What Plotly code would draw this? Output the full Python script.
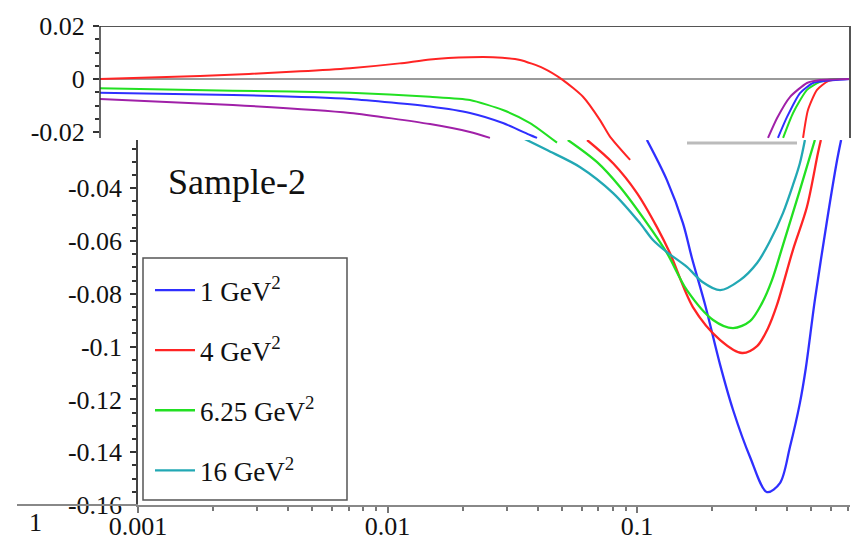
import plotly.graph_objects as go

W, H = 853, 546
FONT = "Liberation Serif"

# ---------------- main (lower) panel data ----------------
legend_names = ["1 GeV<sup>2</sup>", "4 GeV<sup>2</sup>", "6.25 GeV<sup>2</sup>", "16 GeV<sup>2</sup>"]

x_1 = [0.1096, 0.1318, 0.1528, 0.1660, 0.1876, 0.2155, 0.2427, 0.2838, 0.3319, 0.3741, 0.4102, 0.4496,
       0.4750, 0.5164, 0.5781, 0.6339, 0.6577]
y_1 = [-0.0217, -0.0369, -0.0532, -0.0664, -0.0842, -0.1070, -0.1240, -0.1418, -0.1551, -0.1517, -0.1380, -0.1214,
       -0.1081, -0.0823, -0.0520, -0.0293, -0.0217]

x_4 = [0.0631, 0.0802, 0.1000, 0.1202, 0.1355, 0.1675, 0.2155, 0.2637, 0.3029, 0.3350, 0.3639, 0.4216, 0.4797, 0.5309, 0.5457]
y_4 = [-0.0217, -0.0305, -0.0418, -0.0547, -0.0645, -0.0850, -0.0975, -0.1024, -0.0998, -0.0930, -0.0842, -0.0634, -0.0471, -0.0267, -0.0217]

x_625 = [0.0528, 0.0692, 0.0855, 0.1096, 0.1318, 0.1585, 0.2018, 0.2427, 0.2838, 0.3170, 0.3475, 0.3846, 0.4496, 0.5164]
y_625 = [-0.0217, -0.0301, -0.0395, -0.0532, -0.0645, -0.0786, -0.0899, -0.0930, -0.0903, -0.0835, -0.0748, -0.0615, -0.0407, -0.0217]

x_16 = [0.0349, 0.0436, 0.0592, 0.0802, 0.1028, 0.1159, 0.1318, 0.1585, 0.1830, 0.2155, 0.2588, 0.3029, 0.3412, 0.3846,
        0.4216, 0.4496, 0.4710]
y_16 = [-0.0210, -0.0255, -0.0320, -0.0418, -0.0532, -0.0596, -0.0642, -0.0698, -0.0755, -0.0786, -0.0748, -0.0683, -0.0600, -0.0494,
        -0.0388, -0.0305, -0.0217]

main_x = [x_1, x_4, x_625, x_16]
main_y = [y_1, y_4, y_625, y_16]
main_colors = ["#2f2fff", "#ff2424", "#22e022", "#22a8b4"]

# ---------------- upper (inset) panel data ----------------
top_red_x = [0.001, 0.00251, 0.00631, 0.01, 0.0158, 0.0209, 0.0302, 0.0373, 0.0479, 0.0592, 0.0711, 0.0855, 0.1, 0.1096, 0.132,
             None, 0.649, 0.679, 0.738, 0.817, 0.912, 1.0]
top_red_y = [0, 0.0011, 0.0029, 0.0041, 0.0059, 0.0074, 0.0082, 0.0082, 0.0072, 0.0041, -0.0004, -0.0067, -0.0155, -0.0217, -0.0305,
             None, -0.0222, -0.0117, -0.0041, -0.0008, 0, 0]

top_green_x = [0.001, 0.0034, 0.01, 0.0209, 0.0302, 0.0409, 0.0525, 0.0673, None, 0.540, 0.592, 0.673, 0.759, 0.871, 1.0]
top_green_y = [-0.0035, -0.0044, -0.0052, -0.0067, -0.0079, -0.0117, -0.0166, -0.0240, None, -0.0222, -0.0128, -0.0041, -0.0011, 0, 0]

top_blue_x = [0.001, 0.0034, 0.01, 0.0209, 0.0302, 0.0409, 0.0525, 0.056, None, 0.515, 0.560, 0.631, 0.711, 0.780, 1.0]
top_blue_y = [-0.0052, -0.0060, -0.0075, -0.0104, -0.0128, -0.0166, -0.0211, -0.0222, None, -0.0222, -0.0143, -0.0053, -0.0015, -0.0008, 0]

top_purple_x = [0.001, 0.0034, 0.01, 0.0209, 0.0302, 0.0363, None, 0.470, 0.511, 0.575, 0.673, 0.759, 1.0]
top_purple_y = [-0.0075, -0.0098, -0.0128, -0.0170, -0.0200, -0.0222, None, -0.0222, -0.0147, -0.0068, -0.0015, -0.0004, 0]

top_x = [top_red_x, top_green_x, top_blue_x, top_purple_x]
top_y = [top_red_y, top_green_y, top_blue_y, top_purple_y]
top_colors = ["#ff2424", "#22e022", "#2f2fff", "#a020a8"]

# ticks
main_ytick_vals = [-0.16, -0.14, -0.12, -0.1, -0.08, -0.06, -0.04]
main_ytick_text = ["-0.16", "-0.14", "-0.12", "-0.1", "-0.08", "-0.06", "-0.04"]
main_xtick_vals = [0.001, 0.01, 0.1]
main_xtick_text = ["0.001", "0.01", "0.1"]
top_ytick_vals = [0.02, 0, -0.02]
top_ytick_text = ["0.02", "0", "-0.02"]


def px(x):
    return x / W


def py(y):
    return 1 - y / H


fig = go.Figure()

for xs, ys, c in zip(top_x, top_y, top_colors):
    fig.add_trace(go.Scatter(x=xs, y=ys, mode="lines", xaxis="x2", yaxis="y2",
                             line=dict(color=c, width=2, shape="spline", smoothing=0.6),
                             showlegend=False, connectgaps=False, hoverinfo="skip"))

for i, (xs, ys, c, n) in enumerate(zip(main_x, main_y, main_colors, legend_names)):
    fig.add_trace(go.Scatter(x=xs, y=ys, mode="lines", xaxis="x", yaxis="y", name=n,
                             legendgroup=f"g{i}",
                             line=dict(color=c, width=2.3, shape="spline", smoothing=0.9)))

tickfont = dict(family=FONT, size=26, color="#111")

minor_x = [k * 10 ** e for e in (-3, -2, -1) for k in range(2, 10)]

fig.update_layout(
    width=W, height=H,
    margin=dict(l=0, r=0, t=0, b=0, autoexpand=False),
    paper_bgcolor="white",
    plot_bgcolor="rgba(0,0,0,0)",
    font=dict(family=FONT, color="#111"),
    xaxis=dict(type="log", range=[-3, -3 + 712 / 249.5], domain=[px(138), px(850)],
               anchor="y", showgrid=False, zeroline=False, automargin=False,
               showline=True, linecolor="#888", linewidth=2,
               ticks="outside", ticklen=6, tickcolor="#777", tickwidth=1.5,
               tickvals=main_xtick_vals, ticktext=main_xtick_text, tickfont=tickfont,
               ticklabelstandoff=-9,
               minor=dict(tickvals=minor_x, ticks="outside", ticklen=4, tickcolor="#777", showgrid=False)),
    yaxis=dict(range=[-0.16, -0.0217], domain=[py(505), py(140)], anchor="x",
               showgrid=False, zeroline=False, automargin=False,
               showline=True, linecolor="#444", linewidth=1.5,
               ticks="outside", ticklen=6, tickcolor="#333", tickwidth=2,
               tickvals=main_ytick_vals, ticktext=main_ytick_text, tickfont=tickfont,
               ticklabelstandoff=3,
               minor=dict(dtick=0.005, ticks="outside", ticklen=4, tickcolor="#333", showgrid=False)),
    xaxis2=dict(type="log", range=[-3, 0], domain=[px(100), px(850)], anchor="y2",
                visible=False, showgrid=False, automargin=False),
    yaxis2=dict(range=[-0.0313, 0.02], domain=[py(162), py(26)], anchor="x2",
                showgrid=False, showline=False, automargin=False,
                zeroline=True, zerolinecolor="#9a9a9a", zerolinewidth=2,
                ticks="outside", ticklen=6, tickcolor="#333", tickwidth=2,
                tickvals=top_ytick_vals, ticktext=top_ytick_text, tickfont=tickfont,
                ticklabelstandoff=3,
                minor=dict(tickvals=[0.015, 0.01, 0.005, -0.005, -0.01, -0.015], ticks="outside",
                           ticklen=4, tickcolor="#333", showgrid=False)),
    legend=dict(x=px(150), y=py(266), xanchor="left", yanchor="top",
                bgcolor="rgba(0,0,0,0)", borderwidth=0,
                font=dict(family=FONT, size=27, color="#111"),
                tracegroupgap=22, itemwidth=40),
    showlegend=True,
)

# legend frame
fig.add_shape(type="rect", xref="paper", yref="paper", x0=px(143), x1=px(347), y0=py(500), y1=py(258),
              fillcolor="white", line=dict(color="#555", width=1.5), layer="above")

# frame of the upper panel
line_dark = dict(color="#555", width=2)
fig.add_shape(type="line", xref="x2 domain", yref="y2", x0=0, x1=1, y0=0.02, y1=0.02, line=line_dark)
fig.add_shape(type="line", xref="x2 domain", yref="y2", x0=0, x1=0, y0=0.02, y1=-0.0222, line=dict(color="#333", width=1.5))
fig.add_shape(type="line", xref="x2 domain", yref="y2", x0=1, x1=1, y0=0.02, y1=-0.0222, line=line_dark)
# partial top border of lower panel
fig.add_shape(type="line", xref="paper", yref="paper", x0=px(687), x1=px(797), y0=py(143), y1=py(143),
              line=dict(color="#bbb", width=3))
# stray axis stub at the bottom left
fig.add_shape(type="line", xref="paper", yref="paper", x0=px(17), x1=px(138), y0=py(505), y1=py(505),
              line=dict(color="#888", width=2))

fig.add_annotation(text="Sample-2", xref="paper", yref="paper", x=px(166), y=py(182),
                   xanchor="left", yanchor="middle", showarrow=False,
                   font=dict(family=FONT, size=36, color="#111"))
fig.add_annotation(text="1", xref="paper", yref="paper", x=px(35), y=py(522),
                   xanchor="center", yanchor="middle", showarrow=False,
                   font=dict(family=FONT, size=26, color="#111"))

fig.write_html("out.html")
